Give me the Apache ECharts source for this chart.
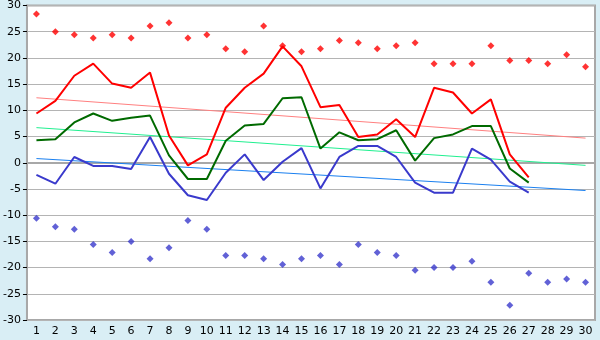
<!DOCTYPE html>
<html>
<head>
<meta charset="utf-8">
<script src="https://cdn.jsdelivr.net/npm/echarts@6/dist/echarts.min.js"></script>
<style>
  html, body { margin: 0; padding: 0; background: #d9eef5; }
  #chart { width: 600px; height: 340px; }
</style>
</head>
<body>
<div id="chart"></div>
<script>
// Days of the month
const days = Array.from({ length: 30 }, (_, i) => String(i + 1));

// Daily series (days 1..27)
const redLine = [9.4, 11.8, 16.6, 18.9, 15.1, 14.3, 17.2, 5.2, -0.5, 1.6,
  10.5, 14.3, 17.0, 22.2, 18.4, 10.6, 11.0, 4.9, 5.4, 8.3,
  4.9, 14.3, 13.4, 9.4, 12.1, 1.6, -2.8];
const greenLine = [4.3, 4.5, 7.7, 9.4, 8.0, 8.6, 9.0, 1.4, -3.1, -3.1,
  4.2, 7.1, 7.4, 12.3, 12.5, 2.7, 5.8, 4.3, 4.5, 6.2,
  0.4, 4.7, 5.4, 7.0, 7.0, -1.1, -3.8];
const blueLine = [-2.3, -4.0, 1.1, -0.6, -0.6, -1.2, 4.9, -2.1, -6.2, -7.1,
  -1.9, 1.6, -3.3, 0.2, 2.8, -4.9, 1.1, 3.2, 3.2, 1.1,
  -3.8, -5.7, -5.7, 2.7, 0.6, -3.6, -5.7];

// Extremes for each day (1..30)
const redPoints = [28.4, 25.0, 24.4, 23.8, 24.4, 23.8, 26.1, 26.7, 23.8, 24.4,
  21.75, 21.2, 26.1, 22.3, 21.2, 21.75, 23.3, 22.9, 21.75, 22.3,
  22.9, 18.9, 18.9, 18.9, 22.3, 19.5, 19.5, 18.9, 20.6, 18.3];
const bluePoints = [-10.6, -12.2, -12.7, -15.6, -17.1, -15.0, -18.3, -16.2, -11.0, -12.7,
  -17.7, -17.7, -18.3, -19.4, -18.3, -17.7, -19.4, -15.6, -17.1, -17.7,
  -20.5, -20.0, -20.0, -18.8, -22.8, -27.2, -21.1, -22.8, -22.2, -22.8];

// Trend lines: values at day 1 and day 30
const redTrend = [12.4, 4.7];
const greenTrend = [6.7, -0.5];
const blueTrend = [0.8, -5.3];

// Y axis ticks
const yMin = -30, yMax = 30, yStep = 5;

function trend(vals) {
  return [[0, vals[0]], [days.length - 1, vals[1]]];
}

function lineSeries(data, color) {
  return {
    type: 'line', data: data, symbol: 'none', smooth: false,
    lineStyle: { color: color, width: 2 }, z: 3, animation: false
  };
}
function trendSeries(vals, color) {
  return {
    type: 'line', data: trend(vals), symbol: 'none',
    lineStyle: { color: color, width: 1 }, z: 2, animation: false
  };
}
function pointSeries(data, color) {
  return {
    type: 'scatter', data: data, symbol: 'diamond', symbolSize: 7,
    itemStyle: { color: color }, z: 4, animation: false
  };
}

const chart = echarts.init(document.getElementById('chart'), null, { renderer: 'canvas' });
chart.setOption({
  backgroundColor: '#d9eef5',
  animation: false,
  grid: {
    left: 26, right: 5, top: 5, bottom: 20,
    show: true, backgroundColor: '#ffffff',
    borderColor: '#a8a8a8', borderWidth: 2
  },
  xAxis: {
    type: 'category', data: days, boundaryGap: true,
    axisLine: { lineStyle: { color: '#a8a8a8', width: 2 } },
    axisTick: { alignWithLabel: true, length: 4, lineStyle: { color: '#000' } },
    axisLabel: { color: '#000', fontFamily: 'DejaVu Sans', fontSize: 11, margin: 6, interval: 0 },
    splitLine: { show: false }
  },
  yAxis: {
    type: 'value', min: yMin, max: yMax, interval: yStep,
    axisLine: { show: true, lineStyle: { color: '#a8a8a8', width: 2 } },
    axisTick: { show: true, length: 4, lineStyle: { color: '#000' } },
    axisLabel: { color: '#000', fontFamily: 'DejaVu Sans', fontSize: 11, margin: 6 },
    splitLine: { lineStyle: { color: '#b4b4b4', width: 1 } }
  },
  series: [
    trendSeries(redTrend, '#ff8080'),
    trendSeries(greenTrend, '#20f090'),
    trendSeries(blueTrend, '#1a80f0'),
    lineSeries(redLine, '#ff0000'),
    lineSeries(greenLine, '#006a00'),
    lineSeries(blueLine, '#3a3acc'),
    pointSeries(redPoints, '#ff0000'),
    pointSeries(bluePoints, '#3a3acc')
  ]
});
</script>
</body>
</html>
